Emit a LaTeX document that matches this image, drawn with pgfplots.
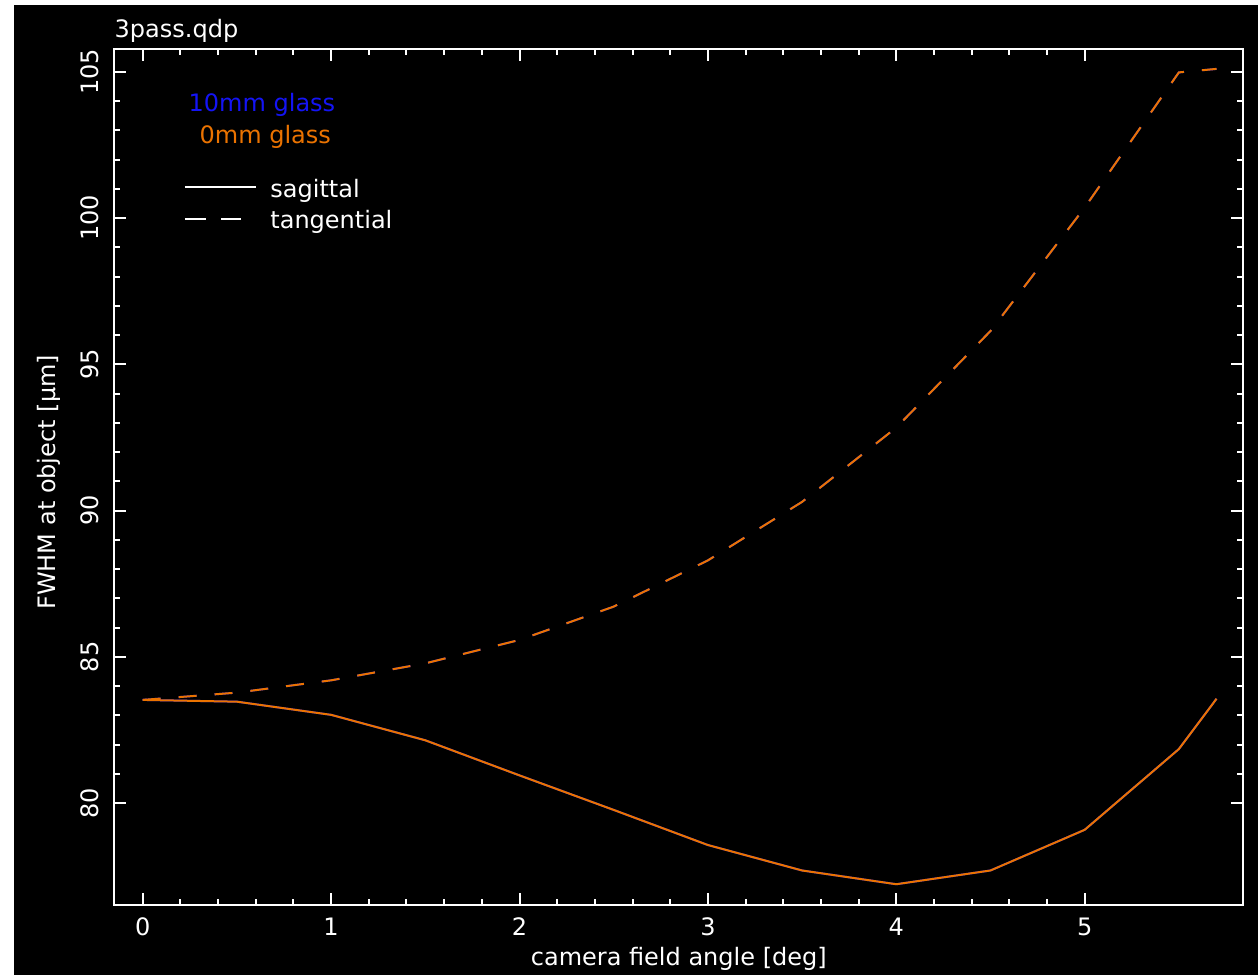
\documentclass[border=0pt]{standalone}
\usepackage{fontspec}
\setmainfont{DejaVu Sans}
\usepackage{pgfplots}
\pgfplotsset{compat=1.18}
\usetikzlibrary{backgrounds}
\definecolor{orng}{RGB}{235,115,0}
\definecolor{qblue}{RGB}{20,20,245}
\pgfplotstableread{
x sag tan
0   83.53 83.53
0.5 83.47 83.78
1   83.02 84.20
1.5 82.15 84.78
2   80.95 85.58
2.5 79.77 86.72
3   78.57 88.30
3.5 77.70 90.30
4   77.23 92.84
4.5 77.70 96.14
5   79.09 100.36
5.5 81.85 104.98
5.7 83.57 105.10
}\zeromm
\pgfplotstableread{
x sag tan
0   83.53 83.53
0.5 83.47 83.78
1   83.02 84.20
1.5 82.15 84.78
2   80.95 85.58
2.5 79.77 86.72
3   78.57 88.30
3.5 77.70 90.30
4   77.23 92.84
4.5 77.70 96.14
5   79.09 100.36
5.5 81.85 104.98
5.7 83.57 105.10
}\tenmm
\begin{document}
\begin{tikzpicture}
\begin{axis}[
  name=ax,
  scale only axis, width=564.5pt, height=427.85pt,
  xmin=-0.151, xmax=5.842, ymin=76.52, ymax=105.77,
  axis line style={white, line width=1pt},
  every tick/.append style={white, line width=1pt},
  major tick length=6pt, minor tick length=3pt,
  xtick={0,1,2,3,4,5}, ytick={80,85,90,95,100,105},
  minor x tick num=4, minor y tick num=4,
  tick align=inside,
  font=\fontsize{12}{14}\selectfont,
  /pgf/number format/assume math mode=true,
  ticklabel style={text=white, inner sep=0pt},
  xticklabel style={anchor=base, yshift=-15pt},
  yticklabel style={xshift=-7.7pt, rotate=90, anchor=base},
  xlabel={camera field angle [deg]},
  ylabel={FWHM at object [μm]},
  xlabel style={at={(axis description cs:0.5,-0.0709)}, anchor=base, text=white, inner sep=0pt},
  ylabel style={at={(axis description cs:-0.0525,0.494)}, anchor=base, text=white, inner sep=0pt},
  title={3pass.qdp},
  title style={at={(axis description cs:0,1.014)}, anchor=base west, yshift=-6pt, text=white, inner sep=0pt},
]
\addplot[qblue, line width=1pt] table[x=x, y=sag] {\tenmm};
\addplot[qblue, line width=1pt, dash pattern=on 9pt off 9pt] table[x=x, y=tan] {\tenmm};
\addplot[orng, line width=1pt] table[x=x, y=sag] {\zeromm};
\addplot[orng, line width=1pt, dash pattern=on 9pt off 9pt] table[x=x, y=tan] {\zeromm};
\coordinate (ll) at (rel axis cs:0,0);
\end{axis}
\begin{scope}[on background layer, shift={(ll)}, x=0.5pt, y=0.5pt]
\fill[white] (-114.3,-70) rectangle ++(1258,975);
\fill[black] (-100.3,-70) rectangle ++(1244,970);
\end{scope}
\begin{scope}[shift={(ll)}, x=0.5pt, y=0.5pt, font=\fontsize{12}{14}\selectfont]
\node[anchor=base west, inner sep=0pt, text=qblue] at (74,793.3) {10mm glass};
\node[anchor=base west, inner sep=0pt, text=orng] at (85,761) {0mm glass};
\draw[white, line width=1pt] (70.7,717.7) -- (141.7,717.7);
\node[anchor=base west, inner sep=0pt, text=white] at (155.7,707) {sagittal};
\draw[white, line width=1pt] (70.7,685.7) -- (91.7,685.7) (106.7,685.7) -- (126.7,685.7);
\node[anchor=base west, inner sep=0pt, text=white] at (155.7,676.7) {tangential};
\end{scope}
\pgfresetboundingbox
\useasboundingbox (ll) ++(-57.15pt,-35pt) rectangle ++(629pt,487.5pt);
\end{tikzpicture}
\end{document}
